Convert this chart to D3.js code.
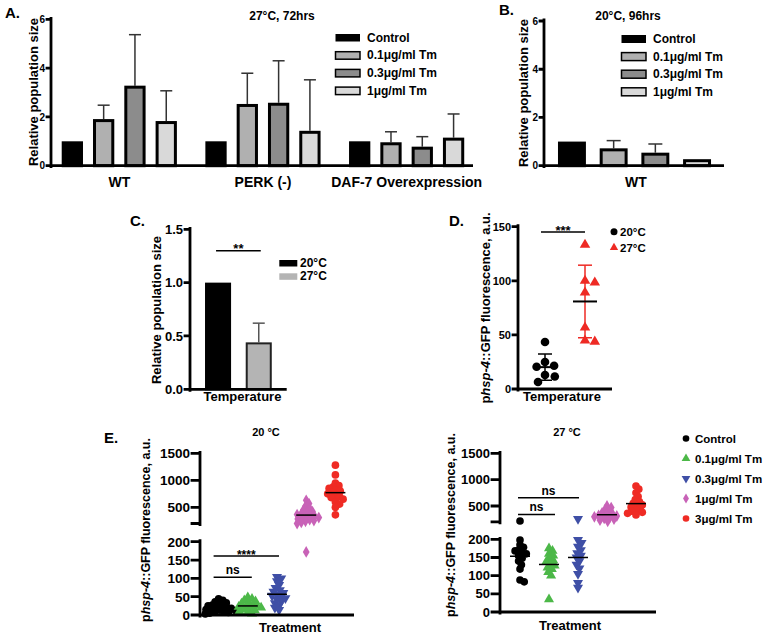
<!DOCTYPE html>
<html><head><meta charset="utf-8">
<script src="https://cdn.jsdelivr.net/npm/d3@7"></script>
<style>
body{margin:0;background:#fff}
text{font-family:"Liberation Sans",Arial,Helvetica,sans-serif;fill:#000}
</style>
</head><body>
<svg id="c" width="768" height="637"></svg>
<script>
// ---------------- DATA ----------------
// Panel A (27°C, 72hrs)
const aGroups = ["WT", "PERK (-)", "DAF-7 Overexpression"];
const treatments = ["Control", "0.1μg/ml Tm", "0.3μg/ml Tm", "1μg/ml Tm"];
const aControl = [1, 1, 1];
const aTm01 = [1.91, 2.53, 0.96];
const aTm03 = [3.28, 2.58, 0.78];
const aTm1 = [1.83, 1.43, 1.15];
const aControlSD = [0, 0, 0];
const aTm01SD = [0.57, 1.26, 0.43];
const aTm03SD = [2.09, 1.72, 0.41];
const aTm1SD = [1.24, 2.09, 0.97];
const aTicks = [0, 2, 4, 6];
// Panel B (20°C, 96hrs, WT)
const bGroup = "WT";
const bValues = [1, 0.72, 0.54, 0.27];
const bSD = [0, 0.32, 0.36, 0];
const bTicks = [0, 2, 4, 6];
// Panel C
const cTemps = ["20°C", "27°C"];
const cValues = [1.0, 0.44];
const cSD = [0, 0.18];
const cTicks = [0, 0.5, 1.0, 1.5];
// Panel D
const dTemps = ["20°C", "27°C"];
const d20 = [43.5, 25, 21.5, 20.5, 13, 11.5, 6.5];
const d27 = [133.3, 100, 98.4, 89.2, 56.8, 44.8, 43.8];
const dTicks = [0, 50, 100, 150];
// Panel E
const eTreat = ["Control", "0.1μg/ml Tm", "0.3μg/ml Tm", "1μg/ml Tm", "3μg/ml Tm"];
const e20Control = [3, 5, 7, 9, 10, 12, 13, 15, 16, 18, 19, 21, 23, 25, 27, 30, 33, 36, 40, 44];
const e20Tm01 = [4, 7, 10, 13, 15, 18, 20, 22, 24, 26, 28, 31, 34, 37, 40, 44, 48];
const e20Tm03 = [14, 20, 26, 32, 37, 42, 46, 50, 53, 56, 60, 64, 68, 74, 82, 92, 100, 104];
const e20Tm1 = [172, 200, 220, 240, 255, 270, 285, 300, 310, 320, 335, 350, 365, 380, 400, 420, 450, 480, 520, 570, 630];
const e20Tm3 = [360, 500, 560, 600, 650, 680, 700, 720, 750, 780, 800, 820, 850, 880, 900, 950, 1100, 1280];
const e27Control = [83, 88, 118, 130, 140, 148, 155, 160, 163, 168, 172, 178, 185, 198, 215];
const e27Tm01 = [35, 100, 110, 118, 122, 128, 132, 138, 142, 148, 155, 160, 168, 175];
const e27Tm03 = [67, 80, 105, 120, 130, 140, 150, 155, 162, 170, 180, 190, 198, 253];
const e27Tm1 = [210, 230, 250, 265, 280, 295, 310, 320, 335, 350, 370, 400, 430, 470, 500];
const e27Tm3 = [330, 360, 380, 400, 420, 450, 480, 500, 520, 550, 580, 620, 680, 750, 820, 880];
const eUpperTicks = [200, 500, 1000, 1500];
const eLowerTicks = [0, 50, 100, 150, 200];

// ---------------- HELPERS ----------------
const svg = d3.select("#c");
const FONT = '"Liberation Sans",Arial,Helvetica,sans-serif';
const AXW = 2.8;

function txt(g, x, y, s, size, anchor, weight) {
  return g.append("text").attr("x", x).attr("y", y).attr("font-size", size)
    .attr("text-anchor", anchor || "start").attr("font-weight", weight || "bold").text(s);
}
function vtitle(g, cx, cy, size, parts) {
  const t = g.append("text").attr("transform", `translate(${cx},${cy}) rotate(-90)`)
    .attr("text-anchor", "middle").attr("dy", "0.35em").attr("font-size", size).attr("font-weight", "bold");
  parts.forEach(([s, it]) => t.append("tspan").attr("font-style", it ? "italic" : "normal").text(s));
}
function hline(g, x1, x2, y, w, col) {
  g.append("line").attr("x1", x1).attr("x2", x2).attr("y1", y).attr("y2", y)
    .attr("stroke", col || "#000").attr("stroke-width", w || 2);
}
function vline(g, x, y1, y2, w, col) {
  g.append("line").attr("x1", x).attr("x2", x).attr("y1", y1).attr("y2", y2)
    .attr("stroke", col || "#000").attr("stroke-width", w || 1.5);
}
const axisLayer = [];
function yAxis(g, scale, x, vals, size, tickLen, fmt) {
  const ax = d3.axisLeft(scale).tickValues(vals).tickSize(tickLen).tickSizeOuter(0).tickPadding(2)
    .tickFormat(fmt || d3.format("d"));
  const a = g.append("g").attr("transform", `translate(${x},0)`).call(ax);
  a.select(".domain").remove();
  a.selectAll(".tick line").remove();
  a.selectAll(".tick text").attr("font-size", size).attr("font-weight", "bold")
    .attr("font-family", FONT).attr("fill", "#000");
  axisLayer.push({ scale, x, vals, tickLen });
  return a;
}
function drawAxisLayer() {
  const L = svg.append("g").attr("class", "axis-lines");
  axisLayer.forEach(({ scale, x, vals, tickLen }) => {
    const r = scale.range();
    const p = d3.path();
    p.moveTo(x, r[0] + 1);
    p.lineTo(x, r[1] - 1);
    vals.forEach(v => { p.moveTo(x - tickLen, scale(v)); p.lineTo(x, scale(v)); });
    L.append("path").attr("d", p.toString()).attr("fill", "none")
      .attr("stroke", "#000").attr("stroke-width", AXW).attr("stroke-linecap", "square");
  });
}
function swarm(vals, yFn, cx, minD) {
  const pts = vals.map(v => ({ v, y: yFn(v) })).sort((a, b) => a.y - b.y);
  const placed = [];
  pts.forEach(p => {
    for (let k = 0; k < 200; k++) {
      const off = k === 0 ? 0 : (k % 2 === 1 ? (k + 1) / 2 : -k / 2) * 0.7;
      const ok = placed.every(q => (q.x - (cx + off)) ** 2 + (q.y - p.y) ** 2 >= minD * minD);
      if (ok) { p.x = cx + off; break; }
    }
    placed.push(p);
  });
  return placed;
}

const barFills = ["#000000", "#b0b0b0", "#8c8c8c", "#d9d9d9"];

// ---------------- PANEL A ----------------
const gA = svg.append("g");
const aVals = [aControl, aTm01, aTm03, aTm1];
const aSD = [aControlSD, aTm01SD, aTm03SD, aTm1SD];
const yA = d3.scaleLinear().domain([0, 6]).range([165.7, 19.3]);
const xA = d3.scaleBand().domain(aGroups).range([47.5, 478.5]);
const xAi = d3.scaleBand().domain(treatments).range([9.2, 134.4]).paddingInner(0.32).paddingOuter(0.16);
aGroups.forEach((grp, gi) => {
  treatments.forEach((tr, si) => {
    const v = aVals[si][gi], sd = aSD[si][gi];
    const x0 = xA(grp) + xAi(tr), w = xAi.bandwidth(), cx = x0 + w / 2;
    if (sd > 0) {
      vline(gA, cx, yA(v), yA(v + sd), 1.5, "#333");
      hline(gA, cx - 6, cx + 6, yA(v + sd), 1.5, "#333");
    }
    gA.append("rect").attr("x", x0 + 1.5).attr("y", yA(v) + 1.5).attr("width", w - 3)
      .attr("height", Math.max(0, yA(0) - yA(v) - 1.5)).attr("fill", barFills[si])
      .attr("stroke", "#000").attr("stroke-width", 3);
  });
  txt(gA, xA(grp) + xA.bandwidth() / 2, 187, grp, 14, "middle");
});
hline(gA, 50, 473, yA(0), AXW);
yAxis(gA, yA, 51, aTicks, 10, 4);
vtitle(gA, 33, 92, 13, [["Relative population size", false]]);
txt(gA, 282, 20, "27°C, 72hrs", 12, "middle");
txt(gA, 5, 18, "A.", 15, "start");
treatments.forEach((tr, i) => {
  const ly = 34 + i * 17.7;
  gA.append("rect").attr("x", 335.5).attr("y", ly).attr("width", 24.5).attr("height", 7.5)
    .attr("fill", barFills[i]).attr("stroke", "#000").attr("stroke-width", i === 0 ? 0 : 1.5);
  txt(gA, 367, ly + 7.5, tr, 12, "start");
});

// ---------------- PANEL B ----------------
const gB = svg.append("g");
const yB = d3.scaleLinear().domain([0, 6]).range([165.7, 21]);
const xB = d3.scaleBand().domain(treatments).range([551.1, 717.9]).paddingInner(0.33).paddingOuter(0.165);
treatments.forEach((tr, i) => {
  const v = bValues[i], sd = bSD[i], x0 = xB(tr), w = xB.bandwidth(), cx = x0 + w / 2;
  if (sd > 0) {
    vline(gB, cx, yB(v), yB(v + sd), 1.5, "#333");
    hline(gB, cx - 7, cx + 7, yB(v + sd), 1.5, "#333");
  }
  gB.append("rect").attr("x", x0 + 1.5).attr("y", yB(v) + 1.5).attr("width", w - 3)
    .attr("height", Math.max(0, yB(0) - yB(v) - 1.5)).attr("fill", barFills[i])
    .attr("stroke", "#000").attr("stroke-width", 3);
});
hline(gB, 543, 724, yB(0), AXW);
yAxis(gB, yB, 544, bTicks, 10, 4);
txt(gB, 636, 187, bGroup, 14, "middle");
vtitle(gB, 523, 93, 13, [["Relative population size", false]]);
txt(gB, 628, 20, "20°C, 96hrs", 12, "middle");
txt(gB, 499, 15, "B.", 15, "start");
treatments.forEach((tr, i) => {
  const ly = 35 + i * 17.6;
  gB.append("rect").attr("x", 621.5).attr("y", ly).attr("width", 24.5).attr("height", 8)
    .attr("fill", barFills[i]).attr("stroke", "#000").attr("stroke-width", i === 0 ? 0 : 1.5);
  txt(gB, 653, ly + 8, tr, 12, "start");
});

// ---------------- PANEL C ----------------
const gC = svg.append("g");
const yC = d3.scaleLinear().domain([0, 1.5]).range([389.3, 229.3]);
const xC = d3.scaleBand().domain(cTemps).range([197.7, 279.1]).paddingInner(0.36).paddingOuter(0.18);
const cFills = ["#000000", "#b4b4b4"];
cTemps.forEach((t, i) => {
  const v = cValues[i], sd = cSD[i], x0 = xC(t), w = xC.bandwidth(), cx = x0 + w / 2;
  if (sd > 0) {
    vline(gC, cx, yC(v), yC(v + sd), 1.5, "#555");
    hline(gC, cx - 6, cx + 6, yC(v + sd), 1.5, "#555");
  }
  gC.append("rect").attr("x", x0 + 1).attr("y", yC(v) + 1).attr("width", w - 2)
    .attr("height", yC(0) - yC(v) - 1).attr("fill", cFills[i])
    .attr("stroke", i === 0 ? "#000" : "#222").attr("stroke-width", 2);
});
hline(gC, 189, 286.7, yC(0), AXW);
yAxis(gC, yC, 190, cTicks, 13, 5, d3.format(".1f"));
vtitle(gC, 156.7, 310, 13, [["Relative population size", false]]);
txt(gC, 242.5, 401, "Temperature", 13, "middle");
txt(gC, 130, 226, "C.", 15, "start");
{
  const c1 = xC(cTemps[0]) + xC.bandwidth() / 2, c2 = xC(cTemps[1]) + xC.bandwidth() / 2;
  hline(gC, c1 - 2, c2 + 2, yC(1.3), 1.5);
  txt(gC, (c1 + c2) / 2, yC(1.3) + 2.5, "**", 13, "middle");
}
cTemps.forEach((t, i) => {
  const ly = 260 + i * 13.3;
  gC.append("rect").attr("x", 279.3).attr("y", ly).attr("width", 18).attr("height", 6.5).attr("fill", cFills[i]);
  txt(gC, 300, ly + 7, t, 12, "start");
});

// ---------------- PANEL D ----------------
const gD = svg.append("g");
const yD = d3.scaleLinear().domain([0, 150]).range([389, 226.7]);
const xD = d3.scalePoint().domain(dTemps).range([518, 612]).padding(0.675);
const dSets = [d20, d27];
const dCols = ["#000000", "#ee2a24"];
dSets.forEach((vals, i) => {
  const cx = xD(dTemps[i]);
  const m = d3.mean(vals), sd = d3.deviation(vals);
  vline(gD, cx, yD(m - sd), yD(m + sd), 1.5, dCols[i]);
  hline(gD, cx - 7, cx + 7, yD(m - sd), 1.5, dCols[i]);
  hline(gD, cx - 7, cx + 7, yD(m + sd), 1.5, dCols[i]);
  const pts = swarm(vals, yD, cx, 9.5);
  pts.forEach(p => {
    if (i === 0) gD.append("circle").attr("cx", p.x).attr("cy", p.y).attr("r", 4.3).attr("fill", dCols[0]);
    else gD.append("path").attr("d", d3.symbol().type(d3.symbolTriangle).size(48)())
      .attr("transform", `translate(${p.x},${p.y})`).attr("fill", dCols[1]);
  });
  hline(gD, cx - 12, cx + 12, yD(m), 2, "#000");
});
hline(gD, 517, 612, yD(0), AXW);
yAxis(gD, yD, 518, dTicks, 11, 5);
vtitle(gD, 485, 308, 13, [["p", false], ["hsp-4", true], ["::GFP fluorescence, a.u.", false]]);
txt(gD, 562, 401, "Temperature", 13, "middle");
txt(gD, 449, 226, "D.", 15, "start");
hline(gD, xD(dTemps[0]) - 4, xD(dTemps[1]) + 0, yD(145), 1.5);
txt(gD, (xD(dTemps[0]) + xD(dTemps[1])) / 2 - 2, yD(145) + 3, "***", 13, "middle");
gD.append("circle").attr("cx", 614).attr("cy", 231.7).attr("r", 3.5).attr("fill", dCols[0]);
gD.append("path").attr("d", d3.symbol().type(d3.symbolTriangle).size(30)())
  .attr("transform", "translate(614,247.5)").attr("fill", dCols[1]);
txt(gD, 620, 235.7, dTemps[0], 11.5, "start");
txt(gD, 620, 251.7, dTemps[1], 11.5, "start");

// ---------------- PANEL E ----------------
const eColors = ["#000000", "#4cb848", "#3f4fa6", "#c862b7", "#ef2b24"];
const eShapes = [d3.symbolCircle, d3.symbolTriangle, d3.symbolTriangle, d3.symbolDiamond, d3.symbolCircle];
const eRot = [0, 0, 180, 0, 0];
const eSizes = [46, 44, 44, 40, 46];

function drawE(cfg) {
  const g = svg.append("g");
  const yU = d3.scaleLinear().domain([200, 1500]).range(cfg.upper);
  const yL = d3.scaleLinear().domain([0, 200]).range(cfg.lower);
  const yF = v => v >= 200 ? yU(v) : yL(v);
  const x = d3.scalePoint().domain(eTreat).range(cfg.xr).padding(cfg.pad);
  cfg.sets.forEach((vals, i) => {
    const cx = x(eTreat[i]);
    const pts = swarm(vals, yF, cx, 4.2);
    pts.forEach(p => {
      g.append("path").attr("d", d3.symbol().type(eShapes[i]).size(eSizes[i])())
        .attr("transform", `translate(${p.x},${p.y}) rotate(${eRot[i]})`).attr("fill", eColors[i]);
    });
    const m = d3.mean(vals);
    hline(g, cx - 10, cx + 10, yF(m), 1.5, "#000");
  });
  hline(g, cfg.xr[0] - 1, cfg.xr[1], cfg.lower[0], AXW);
  yAxis(g, yU, cfg.xr[0], eUpperTicks, cfg.tick, 8, d => d === 200 ? "" : d);
  yAxis(g, yL, cfg.xr[0], eLowerTicks, cfg.tick, 8);
  vtitle(g, cfg.tx, cfg.ty, 12.5, [["p", false], ["hsp-4", true], ["::GFP fluorescence, a.u.", false]]);
  txt(g, cfg.trX, cfg.trY, "Treatment", 13, "middle");
  txt(g, x(eTreat[2]) - 11, 436, cfg.title, 11, "middle");
  cfg.sig.forEach(s => {
    const sy = s.upper ? yU(s.v) : yL(s.v);
    const x1 = x(eTreat[0]) + s.d1, x2 = x(eTreat[s.to]) + s.d2;
    hline(g, x1, x2, sy, 1.5);
    txt(g, (x1 + x2) / 2, s.label === "ns" ? sy - 3 : sy + 3, s.label, 12, "middle");
  });
  return { g, x };
}

drawE({
  upper: [523.5, 453.3], lower: [615, 541.7], xr: [200, 354], pad: 0.637, tick: 13.5,
  sets: [e20Control, e20Tm01, e20Tm03, e20Tm1, e20Tm3],
  tx: 146, ty: 530, trX: 290, trY: 632, title: "20 °C",
  sig: [{ v: 103, to: 1, d1: -5, d2: 4, label: "ns" }, { v: 161, to: 2, d1: -5, d2: 2, label: "****" }]
});
drawE({
  upper: [521.8, 453.3], lower: [612, 539.3], xr: [500, 656], pad: 0.69, tick: 13,
  sets: [e27Control, e27Tm01, e27Tm03, e27Tm1, e27Tm3],
  tx: 451, ty: 525, trX: 570, trY: 630, title: "27 °C",
  sig: [{ v: 340, upper: true, to: 1, d1: -2, d2: 6, label: "ns" }, { v: 655, upper: true, to: 2, d1: -2, d2: 1, label: "ns" }]
});
txt(svg, 104, 443, "E.", 15, "start");
// E legend
const gL = svg.append("g");
eTreat.forEach((t, i) => {
  const ly = 438.5 + i * 20;
  gL.append("path").attr("d", d3.symbol().type(eShapes[i]).size(eSizes[i] * 0.75)())
    .attr("transform", `translate(686,${ly}) rotate(${eRot[i]})`).attr("fill", eColors[i]);
  txt(gL, 695, ly + 4, t, 11.5, "start");
});
drawAxisLayer();
</script>
</body></html>
